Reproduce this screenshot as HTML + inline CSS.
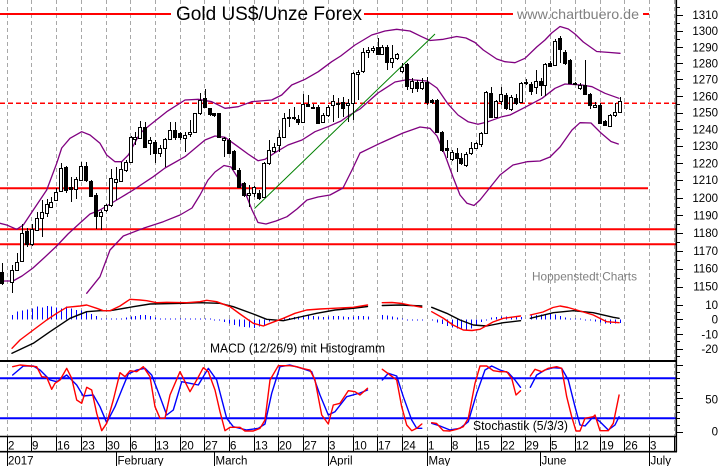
<!DOCTYPE html>
<html><head><meta charset="utf-8">
<style>
html,body{margin:0;padding:0;background:#fff;}
svg{display:block;}
text{font-family:"Liberation Sans",Arial,sans-serif;}
</style></head>
<body>
<svg id="c" width="723" height="466" viewBox="0 0 723 466" xmlns="http://www.w3.org/2000/svg">
<defs><clipPath id="pc"><rect x="0" y="0" width="676" height="295"/></clipPath></defs>
<rect width="723" height="466" fill="#fff"/>
<g id="grid"></g>
<g id="hlines">
  <line x1="0" y1="14" x2="171" y2="14" stroke="#ff0000" stroke-width="2"/>
  <line x1="364" y1="14" x2="513" y2="14" stroke="#ff0000" stroke-width="2"/>
  <line x1="643" y1="14" x2="649" y2="14" stroke="#ff0000" stroke-width="2"/>
  <line x1="0" y1="103.3" x2="676" y2="103.3" stroke="#ff0000" stroke-width="1.5" stroke-dasharray="5,3"/>
  <line x1="0" y1="188.3" x2="648" y2="188.3" stroke="#ff0000" stroke-width="2"/>
  <line x1="0" y1="229.3" x2="676" y2="229.3" stroke="#ff0000" stroke-width="2"/>
  <line x1="0" y1="244.3" x2="676" y2="244.3" stroke="#ff0000" stroke-width="2"/>
</g>
<g id="price" clip-path="url(#pc)"></g>
<g id="macd"></g>
<g id="stoch">
  <line x1="0" y1="378.3" x2="676" y2="378.3" stroke="#0000ff" stroke-width="2"/>
  <line x1="0" y1="418.3" x2="676" y2="418.3" stroke="#0000ff" stroke-width="2"/>
</g>
<g id="frame">
  <line x1="0" y1="361" x2="677" y2="361" stroke="#000" stroke-width="2"/>
  <line x1="0" y1="436.5" x2="677" y2="436.5" stroke="#000" stroke-width="1.6"/>
  <line x1="0" y1="451.7" x2="677" y2="451.7" stroke="#000" stroke-width="1.6"/>
  <line x1="676.3" y1="0" x2="676.3" y2="452" stroke="#000" stroke-width="1.6"/>
</g>
<g id="ticks"></g>

<!-- Titles -->
<text x="176" y="20" font-size="19" fill="#000" textLength="186" lengthAdjust="spacingAndGlyphs">Gold US$/Unze Forex</text>
<text x="517" y="19" font-size="14" fill="#808080" textLength="122" lengthAdjust="spacingAndGlyphs">www.chartbuero.de</text>
<text x="532" y="280.5" font-size="12" fill="#808080" textLength="105" lengthAdjust="spacingAndGlyphs">Hoppenstedt Charts</text>
<text x="210" y="352.3" font-size="12.5" fill="#000" textLength="175" lengthAdjust="spacingAndGlyphs">MACD (12/26/9) mit Histogramm</text>
<text x="473" y="429.8" font-size="12.5" fill="#000" textLength="95" lengthAdjust="spacingAndGlyphs">Stochastik (5/3/3)</text>

<!-- Price axis labels -->
<g font-size="11.5" fill="#000" text-anchor="end">
<text x="718" y="18.8">1310</text>
<text x="718" y="34.8">1300</text>
<text x="718" y="51.5">1290</text>
<text x="718" y="67.5">1280</text>
<text x="718" y="83.7">1270</text>
<text x="718" y="100.3">1260</text>
<text x="718" y="116.7">1250</text>
<text x="718" y="133.7">1240</text>
<text x="718" y="150">1230</text>
<text x="718" y="167.7">1220</text>
<text x="718" y="184">1210</text>
<text x="718" y="201.8">1200</text>
<text x="718" y="219.6">1190</text>
<text x="718" y="236.9">1180</text>
<text x="718" y="255">1170</text>
<text x="718" y="272.5">1160</text>
<text x="718" y="290.7">1150</text>
<text x="718" y="309">10</text>
<text x="718" y="323.3">0</text>
<text x="718" y="338.3">-10</text>
<text x="718" y="353">-20</text>
<text x="718" y="403.6">50</text>
<text x="718" y="435.5">0</text>
</g>

<!-- Date labels -->
<g font-size="11.5" fill="#000">
<text x="8" y="449.5">2</text>
<text x="32" y="449.5">9</text>
<text x="57" y="449.5">16</text>
<text x="82" y="449.5">23</text>
<text x="107" y="449.5">30</text>
<text x="131" y="449.5">6</text>
<text x="156" y="449.5">13</text>
<text x="181" y="449.5">20</text>
<text x="205" y="449.5">27</text>
<text x="230" y="449.5">6</text>
<text x="255" y="449.5">13</text>
<text x="279" y="449.5">20</text>
<text x="304" y="449.5">27</text>
<text x="329" y="449.5">3</text>
<text x="354" y="449.5">10</text>
<text x="378" y="449.5">17</text>
<text x="403" y="449.5">24</text>
<text x="428" y="449.5">1</text>
<text x="452" y="449.5">8</text>
<text x="477" y="449.5">15</text>
<text x="502" y="449.5">22</text>
<text x="526" y="449.5">29</text>
<text x="551" y="449.5">5</text>
<text x="576" y="449.5">12</text>
<text x="601" y="449.5">19</text>
<text x="625" y="449.5">26</text>
<text x="650" y="449.5">3</text>
<text x="8" y="464.5">2017</text>
<text x="117.5" y="464.5">February</text>
<text x="215.5" y="464.5">March</text>
<text x="329.5" y="464.5">April</text>
<text x="428.5" y="464.5">May</text>
<text x="541.5" y="464.5">June</text>
<text x="650.5" y="464.5">July</text>
</g>
</svg>
<script>
(function(){
var NS='http://www.w3.org/2000/svg';
function el(p,t,a){var e=document.createElementNS(NS,t);for(var k in a)e.setAttribute(k,a[k]);p.appendChild(e);return e;}
function pl(p,pts,col,w){el(p,'polyline',{points:pts.map(function(q){return q[0]+','+q[1];}).join(' '),fill:'none',stroke:col,'stroke-width':w,'stroke-linejoin':'round','stroke-linecap':'round'});}
function dx(d){var k=Math.floor(d/5),j=d-5*k;return 7+k*24.7+j*4.94;}
var g=document.getElementById('grid');
var fr=document.getElementById('frame');
for(var k=0;k<28;k++){
  var x=Math.round(6.7+k*24.7)+0.5;
  el(g,'line',{x1:x,y1:0,x2:x,y2:436,stroke:'#a8a8a8','stroke-width':1,'stroke-dasharray':'4,3'});
  el(fr,'line',{x1:x,y1:436,x2:x,y2:452,stroke:'#000','stroke-width':1});
}
[7,116,214,328,427,540,649].forEach(function(m){var x=m+0.5;el(fr,'line',{x1:x,y1:452,x2:x,y2:466,stroke:'#000','stroke-width':1});});

var P=document.getElementById('price');
var U=[[0,223.3],[6.7,225],[16.7,229.3],[23.3,225],[33.3,210],[46.7,190],[56.7,163.3],[61.7,148],[70,138.3],[81.7,131.7],[90,135],[100,143.3],[106.7,155],[115,161.7],[121.7,161.7],[128.3,155],[140,133.3],[150,125],[166.7,111.7],[185,100],[198.3,99.3],[211.7,101.7],[225,108.3],[238.3,106.7],[251.7,101.7],[271.7,100],[281.7,95],[291.7,85],[305,79.3],[318.3,71.7],[331.7,61.7],[340.7,56],[355,45],[371.7,35],[385,31],[396.7,29.3],[410,31],[421.7,36.7],[430,40.5],[443.3,39.3],[456.7,36.5],[466,38],[475,42.5],[483.3,50],[496.7,59],[505,61.7],[515,62.7],[525,58.3],[536.7,47],[545,40],[551.7,33],[560,26.5],[568.3,29],[575,34],[583.3,42],[596.7,51.5],[610,52.5],[620,53.3]];
var M=[[0,281],[13,281],[22,276],[33,268],[45,257],[56.7,246],[68,234],[80,223],[90,214],[100,210],[116.7,200],[133.3,190],[153.3,176.7],[165,168],[185,156.7],[205,140],[215,136],[225,137.3],[238,146.7],[248,154],[258,160.7],[265,159.3],[275,152.7],[288,145],[302,140],[315,131.7],[328,126.7],[341,121],[348,116],[360,109],[378,93],[395,82],[408,79.5],[427,81],[437,88],[448,104],[458,115],[468,121.7],[478,124.3],[488,121.7],[502,116.7],[510,115],[525,107.3],[542,98.3],[555,88.3],[565,84],[582,85],[592,86.7],[605,93.3],[619,98.3]];
var L=[[86.7,293.3],[100,276.7],[110,250],[123.3,236],[143.3,228.3],[163.3,221.7],[180,215],[192,208],[200,195],[208,180],[215,172],[224,165.5],[231,167],[238,178],[245,192],[252,210],[258,222.5],[266,224],[276,221],[287,216.7],[297,209],[307,200],[318,197],[330,195],[343,188],[352,170],[360,153],[380,143.3],[403,133],[420,127],[430,128.3],[437,136],[445,155],[453,177],[460,195],[467,203.3],[474,205.5],[480,200],[488,190],[500,175],[513,165],[527,161.7],[540,161],[550,157],[560,147],[572,130],[580,122.7],[591,123],[601,133],[611,141.5],[618.3,144]];
pl(P,U,'#800080',1.3);pl(P,M,'#800080',1.3);pl(P,L,'#800080',1.3);
el(P,'line',{x1:254.5,y1:208.5,x2:435,y2:34,stroke:'#008000','stroke-width':1});

var C=[
[271.7,283.3,263,285],null,
[281.7,270,265,292.7],[270,261.7,253.3,271],[261,232.7,224,262],[231,244,228,246.7],
[244,229,224,246],[230,218,211.7,231],[218.3,211.7,200,236.7],[213,204,199,217],[206.7,201.7,196.7,207],
[200,191.7,188,201],[190.7,168.3,163,191.7],[167.3,190,166,193],[187,189,176.7,201.7],[189,179,177,199],
[180,166,161.7,181],[166,180,161.7,182],[181,195.7,180,197],[195,216,193.3,229.3],[216,211.7,210,230],
[210,205,204,212],[205,178,169.3,207],[182,179,166.7,200],[181,169,161.7,182],[170,161.7,160,171.7],
[161.7,136.7,136,163.3],[139,137,131.7,145],[138.3,126.7,120.7,139],[126.7,146.7,121.7,148.3],[143,140,136.7,155],
[141.7,153.3,140,163],[153,148,145,156.7],[148.3,139.3,138.3,166.7],[139.3,130,121.7,140],[130,137.3,121.7,140],
[133.3,137.3,131.7,140],[138.3,135,131.7,151.7],[134,131.7,120,136.7],[131.7,113.3,112.7,133.3],[113.3,100,92.7,115],
[98.3,106.7,89.3,107.3],[108.3,114,108.3,116],[113.3,115,112.7,116.7],[113.3,136.7,113.3,138.3],[140,138.3,136.7,156.7],
[140,153.3,138.3,154],[150.7,169.3,150,170],[170,186.7,168.3,188.3],[183.3,195,181.7,196.7],[195,193,185,206.7],
[192.7,187.3,186,197],[192.7,197.7,190,200],[196.7,163.3,161.7,198.3],[163.3,150,140,165],[150.7,146.7,142.7,153.3],
[145,136.7,130,151.7],[136.7,118.3,113.3,138.3],[118.3,116.7,109.3,126.7],[118,116.7,106.7,120],[119.3,121.7,115,125],
[121.7,104,94,123.3],[104,106,95,106.7],[108,106.7,104,109],[106.7,122.7,105,124],[122,115,113,123.3],
[115,106.7,105,116.7],[105,100.7,95,121.7],[103.7,103,98,118],[102.3,107.7,96.7,116.7],[105,103.3,99,122],
[103.3,73.3,72,120],[74.3,72.3,70,100],[70.7,52.3,48.3,73.3],[52.3,50,46.7,58.3],[50,48.3,45.7,53.3],
[46.7,54,38.3,54.3],[54.3,46.7,45,55],[46.7,61.7,45,70],[61.7,58.3,45,68.3],[58.3,54.3,53,60],
[70.7,66.7,63.3,73.3],[64.3,86,63.3,90],[88.3,81,78.3,93.3],[82.3,88.3,80,92],[88.3,81.7,78.3,90],
[82,102.3,77,105],[100,102.3,99,104],[100.3,131.7,99,133.3],[131.7,150,131,151.7],[148,150,140,158.3],
[159.3,151.7,150,161],[153.3,158.3,148,171.7],[158.3,163.3,153.3,165],[165,154.3,151.7,166.7],[153.3,148.3,141.7,155],
[148.3,143.3,141.7,149],[144.3,133.3,131.7,146.7],[133.3,91.7,91,134.3],[93.3,116.7,86.7,118.3],[116.7,101,100,118.3],
[101,94.3,86.7,105],[95,108.3,93.3,110],[109.3,97.3,95,110.7],[98.3,102.7,94,105],[101.7,83.3,81.7,103.3],
[83,82.3,79.3,85],[84,90.7,81.7,95],[87.3,80.7,70,94],[80.7,85,78.3,96],[85,64,62.7,96],
[62.7,66,61,67],[65,40.7,39.3,66],[38.3,49.3,36,63.3],[51.7,63.3,50,65],[60,83.3,59.3,84],
[83.3,84.3,82,85],[88.3,85,83.3,90],[85,94,60,95],[94,105,92.7,109.3],[106.7,105,101.7,108.3],
[105,122.7,103.3,123.3],[120.7,125,120,126],[126,115,114,126.7],[115,111.7,103.3,116.7],[111.7,100.7,97.3,112.7]
];
var cg=el(P,'g',{'shape-rendering':'crispEdges'});
for(var i=0;i<C.length;i++){
  var c=C[i];if(!c)continue;
  var d=i-1,cx=Math.round(dx(d));
  var o=c[0],cl=c[1],h=c[2],l=c[3];
  el(cg,'line',{x1:cx+0.5,y1:Math.round(h),x2:cx+0.5,y2:Math.round(l),stroke:'#000','stroke-width':1});
  var t=Math.round(Math.min(o,cl)),b=Math.round(Math.max(o,cl));if(b-t<1)b=t+1;
  el(cg,'rect',{x:cx-2+0.5,y:t+0.5,width:3,height:b-t,fill:(cl<o?'#fff':'#000'),stroke:'#000','stroke-width':1});
}

// MACD
var MG=document.getElementById('macd');
var H=[315,311.7,310.7,309.3,308.3,306.7,307.3,306,306.7,307.3,308.3,306.7,308.3,310,310.7,311.7,314,316,
318.5,319,318.5,318.7,318.3,317.3,316.7,316,315,315,316,317.3,318.3,318.8,319,319,
319.3,319.3,319.3,319,318.7,318.7,318.7,319.6,
320.7,322,323.5,325,326.3,327,327.3,328,326.7,325,321.7,320,
319.6,319.3,318,317,316.7,316,315.7,316,316.7,317,316.7,316,316,316.7,317,316.7,316,316,316.3,
null,null,
315,315.5,316.5,317.3,319,319.8,320,320.3,320.5,
null,
320.7,322.7,324,326,327.3,328.3,329.3,329.3,328.3,325,322,319.5,
317.3,317,316.5,316.5,316.5,316.7,317,
null,
315.5,315,314.5,314,314,314.5,316,317.5,318.5,319,319.3,319.5,320.7,321.5,322.5,323.5,324,323.5,323];
var hg=el(MG,'g',{'shape-rendering':'crispEdges'});
var Z=319.5;
for(var j=0;j<H.length;j++){
  var v=H[j];if(v===null)continue;
  var x=Math.round(dx(j+1))+0.5;
  var y2=v;if(Math.abs(v-Z)<1){y2=(v<Z)?Z-1:Z+1;}
  el(hg,'line',{x1:x,y1:Z,x2:x,y2:y2,stroke:'#0000ff','stroke-width':1});
}
var RM=[
[[12,348.3],[20,340],[33.3,330],[46.7,320],[56.7,313.3],[66.7,307.3],[80,306],[86.7,305],[96.7,308.3],[103.3,310.7],[110,310.7],[120,306],[130,299.3],[140,300],[146.7,300.7],[156.7,302.7],[166.7,302.3],[186.7,302.7],[200,301.7],[206.7,300.3],[216.7,301.7],[230,306.7],[240,314],[253.3,323.3],[263.3,326],[270,323.3],[283.3,318.3],[295,313.3],[306.7,310],[320,309],[333.3,308.3],[353.3,307.3],[367.5,305]],
[[382.3,302.7],[392,302.5],[402,303.5],[412,305.5],[421.8,307.3]],
[[431.7,311.7],[443,318],[453,325],[463.3,330],[472,330.5],[480,329.3],[493,322],[503.3,318.3],[520.5,316]],
[[530.3,315],[543,312],[553,307.5],[560,306],[568,307.5],[576.7,310],[593.3,315],[606.7,321.7],[619.1,322.7]]];
var BM=[
[[12,353.3],[33.3,343.3],[50,331.7],[70,318.3],[86.7,311.7],[100,310.7],[110,310.7],[133.3,306.7],[150,304],[183.3,303.3],[200,302.7],[220,303.3],[233.3,306.7],[253.3,314],[266.7,319.3],[283.3,320.7],[300,317],[316.7,313.3],[335,310],[353.3,308.3],[367.5,306.5]],
[[382.3,305.5],[400,305],[421.8,306]],
[[431.7,307.3],[446.7,313.3],[460,320],[473.3,325],[486.7,326],[503.3,322.7],[520.5,320.7]],
[[530.3,318.3],[553.3,312.7],[573.3,310.7],[593.3,312.7],[613.3,317.3],[619.1,318.3]]];
BM.forEach(function(s){pl(MG,s,'#000',1.4);});
RM.forEach(function(s){pl(MG,s,'#ff0000',1.4);});

// Stochastic
var SG=document.getElementById('stoch');
var RS=[
[[12.7,366.7],[20,365],[30,366],[36.7,366.7],[41.7,376.7],[46.7,377.3],[51.7,389.3],[55,383.3],[60,380],[66.7,368.3],[71.7,378.3],[76.7,400],[81.7,403.3],[86.7,387.3],[91.7,390],[96.7,413.3],[101.7,430.7],[106.7,423.3],[113.3,400],[120,372.7],[125,376.7],[130,370.7],[136.7,371.7],[143.3,366.7],[150,376.7],[155,406.7],[160,418.3],[165,418.3],[170,395],[180,371.7],[185,381.7],[190,391.7],[196.7,380],[203.3,367.7],[208.3,371.7],[215,390],[220,411.7],[225,430.7],[230,427.3],[240,427.3],[245,431],[253.3,431],[260,428.3],[265,420],[270,380],[278.3,365.7],[290,365.7],[296.7,366.7],[303.3,368.7],[310,370],[315,380],[321.7,415],[328.3,424],[333.3,405],[340,403.3],[348.3,390.7],[355,391.7],[360,395],[367.5,388.3]],
[[382.3,369.3],[390,375],[396.7,380],[401.7,406.7],[406.7,425],[411.7,430.7],[416.7,428.3],[421.8,424]],
[[431.7,422.7],[436.6,423.5],[443.3,430.7],[450,431],[456.7,429.3],[463.3,426.7],[468.3,418.3],[475,383.3],[480,366],[486.7,366],[493.3,370.7],[500,371.7],[506.7,371.7],[511.7,378.3],[516,395],[520.5,390.7]],
[[530.3,376],[535,369.3],[541.7,371.7],[548.3,368.3],[556.7,366.7],[561.7,368.3],[566.7,396.7],[571.7,416.7],[576,431],[580,431],[585,418.3],[593.3,416.7],[595,415],[600,430.7],[608.3,430.7],[613.3,423.3],[619.1,395]]];
var BS=[
[[12.7,375],[23.3,366],[33.3,366],[40,370],[50,380],[56.7,381.7],[66.7,375],[76.7,385],[83.3,396],[93.3,395],[100,406.7],[106.7,422.7],[115,406.7],[121.7,390],[128.3,374],[136.7,370],[145,368.3],[151.7,375],[160,396.7],[166.7,415],[173.3,410],[181.7,381.7],[190,383.3],[198.3,385],[208.3,368.3],[216.7,380],[226.7,418.3],[233.3,426.7],[246.7,430],[258.3,428.3],[265,424],[271.7,393.3],[280,366.7],[290,365],[301.7,368.3],[311.7,371.7],[320,395],[328.3,415],[335,411.7],[346.7,396.7],[360,393],[367.5,390]],
[[382.3,380],[388.3,373.3],[396.7,376],[403.3,396.7],[411.7,420],[416.7,428.3],[421.8,428.3]],
[[431.7,423.3],[440,426],[450,430],[460,428.3],[468.3,421.7],[476.7,393.3],[485,370],[491.7,366],[500,370],[508.3,372.7],[515,380],[520.5,387.3]],
[[530.3,387.3],[536.7,375],[545,370],[553.3,367.7],[561.7,368.3],[568.3,380],[575,406.7],[580,425],[585,426],[593.3,416.7],[600,421.7],[608.3,430],[615,425],[619.1,416.7]]];
BS.forEach(function(s){pl(SG,s,'#0000ff',1.4);});
RS.forEach(function(s){pl(SG,s,'#ff0000',1.4);});

// Ticks
var T=document.getElementById('ticks');
function tick(y,maj){el(T,'line',{x1:676,y1:y,x2:maj?683:680,y2:y,stroke:'#000','stroke-width':1});}
var ln1310=Math.log(1310);
for(var p=1145;p<=1315;p+=5){var y=14.7+(ln1310-Math.log(p))*2087.5;if(y<1||y>292)continue;tick(Math.round(y)+0.5,p%10===0);}
for(var m=-25;m<=15;m+=5){tick(Math.round(319.3-1.47*m)+0.5,m%10===0);}
for(var s=0;s<=100;s+=10){tick(Math.round(431.6-0.667*s)+0.5,s%50===0);}
})();
</script>
</body></html>
